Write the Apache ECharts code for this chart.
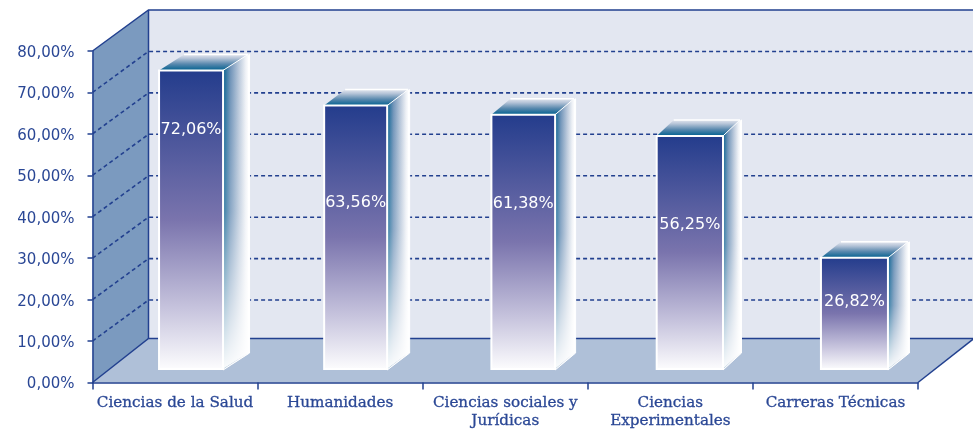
<!DOCTYPE html>
<html><head><meta charset="utf-8">
<style>html,body{margin:0;padding:0;background:#fff}#c{width:973px;height:431px}</style>
<script src="https://cdn.jsdelivr.net/npm/echarts@6/dist/echarts.min.js"></script>
</head><body><div id="c"></div>
<script>
const categories = ['Ciencias de la Salud','Humanidades','Ciencias sociales y\nJurídicas','Ciencias\nExperimentales','Carreras Técnicas'];
const values = [72.06,63.56,61.38,56.25,26.82];
const gridValues = [10,20,30,40,50,60,70];

const NAVY = '#22408f';
const TEXT = '#2a4795';
const fmt = v => v.toFixed(2).replace('.', ',') + '%';
const LG = (x,y,x2,y2,stops) => new echarts.graphic.LinearGradient(x,y,x2,y2,stops.map(s=>({offset:s[0],color:s[1]})));
const DX = 56, DY = -41, FLOOR_DY = -44;
const BAR_LIFT = 13.5, DEPTH_Y = -16;
const barShift = [16,15.5,18,19.5,19];
const barWidth = [64,63,63.7,66.3,67];
const barDepth = [25,21,19,17,20];
const labelRise = [0.80,0.63,0.65,0.62,0.60];

function renderWalls(params, api){
  const cs = params.coordSys;
  const x0 = cs.x, x1 = cs.x + cs.width, y1 = cs.y, y0 = cs.y + cs.height;
  const els = [];
  els.push({type:'polygon',shape:{points:[[x0+DX,y0+FLOOR_DY],[x1+DX,y0+FLOOR_DY],[x1+DX,y1+DY],[x0+DX,y1+DY]]},style:{fill:'#e3e7f1'}});
  els.push({type:'polygon',shape:{points:[[x0,y0],[x0,y1],[x0+DX,y1+DY],[x0+DX,y0+FLOOR_DY]]},style:{fill:'#7b9abf'}});
  els.push({type:'polygon',shape:{points:[[x0,y0],[x1,y0],[x1+DX,y0+FLOOR_DY],[x0+DX,y0+FLOOR_DY]]},style:{fill:'#afc0d8'}});
  gridValues.forEach(v=>{
    const y = api.coord([0,v])[1];
    els.push({type:'polyline',shape:{points:[[x0,y],[x0+DX,y+DY],[x1+DX,y+DY]]},style:{fill:null,stroke:NAVY,lineWidth:1.6,lineDash:[4,3]}});
  });
  els.push({type:'polyline',shape:{points:[[x0,y1],[x0+DX,y1+DY],[x1+DX,y1+DY]]},style:{fill:null,stroke:NAVY,lineWidth:1.5}});
  els.push({type:'line',shape:{x1:x0+DX,y1:y1+DY,x2:x0+DX,y2:y0+FLOOR_DY},style:{stroke:NAVY,lineWidth:1.5}});
  els.push({type:'polyline',shape:{points:[[x0,y0],[x0+DX,y0+FLOOR_DY],[x1+DX,y0+FLOOR_DY]]},style:{fill:null,stroke:NAVY,lineWidth:1.5}});
  els.push({type:'line',shape:{x1:x1,y1:y0,x2:x1+DX,y2:y0+FLOOR_DY},style:{stroke:NAVY,lineWidth:1.5}});
  return {type:'group',children:els};
}

function renderBar(params, api){
  const i = api.value(0), v = api.value(1);
  const c = api.coord([i,v]), b = api.coord([i,0]);
  const w = barWidth[i], dx = barDepth[i];
  const L = c[0]+barShift[i]-w/2, R = L+w, T = c[1]-BAR_LIFT, B = b[1]-BAR_LIFT;
  const side = [[R,T],[R+dx,T+DEPTH_Y],[R+dx,B+DEPTH_Y],[R,B]];
  const halo = [[R,T],[R+dx+1.5,T+DEPTH_Y],[R+dx+1.5,B+DEPTH_Y],[R,B+1]];
  const top = [[L,T],[R,T],[R+dx,T+DEPTH_Y],[L+dx,T+DEPTH_Y]];
  return {type:'group',children:[
    {type:'polygon',shape:{points:halo},style:{fill:'#fff',stroke:'#fff',lineWidth:1}},
    {type:'polygon',shape:{points:side},style:{fill:LG(0,0,1,0,[[0,'#045f90'],[0.3,'#6f93b8'],[0.65,'#bccadc'],[0.9,'#eef1f6'],[1,'#fbfcfd']])}},
    {type:'polygon',shape:{points:side},style:{fill:LG(0,0,0,1,[[0,'rgba(255,255,255,0)'],[0.5,'rgba(255,255,255,0.2)'],[0.85,'rgba(255,255,255,0.75)'],[1,'rgba(255,255,255,0.98)']])}},
    {type:'polygon',shape:{points:top},style:{fill:LG(0,1,0,0,[[0,'#00608f'],[0.4,'#5a89ae'],[0.75,'#b4c3d7'],[1,'#e4e7ef']])}},
    {type:'line',shape:{x1:L+dx,y1:T+DEPTH_Y,x2:R+dx,y2:T+DEPTH_Y},style:{stroke:'#fff',lineWidth:1.5}},
    {type:'line',shape:{x1:R,y1:T,x2:R+dx,y2:T+DEPTH_Y},style:{stroke:'#fff',lineWidth:1}},
    {type:'rect',shape:{x:L,y:T,width:w,height:B-T},style:{fill:LG(0,0,0,1,[[0,'#233c8c'],[0.5,'#7a74ad'],[0.8,'#c8c5de'],[1,'#fdfdfe']]),stroke:'#fff',lineWidth:2}},
    {type:'text',style:{text:fmt(v),x:(L+R)/2,y:B-(B-T)*labelRise[i],align:'center',verticalAlign:'middle',fill:'#fff',font:'16px "DejaVu Sans"'}}
  ]};
}

const chart = echarts.init(document.getElementById('c'),null,{renderer:'canvas'});
chart.setOption({
  animation:false,
  backgroundColor:'#fff',
  grid:{left:92.5,right:55,top:51,bottom:48.5,containLabel:false},
  xAxis:{type:'category',data:categories,z:5,
    axisLine:{lineStyle:{color:NAVY,width:1.5}},
    axisTick:{show:true,alignWithLabel:false,length:7,lineStyle:{color:NAVY,width:1.5}},
    axisLabel:{color:TEXT,fontFamily:'DejaVu Serif',fontSize:15.2,lineHeight:18,margin:12,interval:0,textBorderColor:TEXT,textBorderWidth:0.3}},
  yAxis:{type:'value',min:0,max:80,interval:10,z:5,
    axisLine:{show:true,lineStyle:{color:NAVY,width:1.5}},
    axisTick:{show:true,length:5,lineStyle:{color:NAVY,width:1.5}},
    splitLine:{show:false},
    axisLabel:{color:TEXT,fontFamily:'DejaVu Sans',fontSize:15,margin:18,verticalAlign:'top',lineHeight:4,formatter:fmt}},
  series:[
    {type:'custom',z:1,coordinateSystem:'cartesian2d',renderItem:renderWalls,data:[[0,0]],silent:true},
    {type:'custom',z:2,coordinateSystem:'cartesian2d',renderItem:renderBar,encode:{x:0,y:1},data:values.map((v,i)=>[i,v])}
  ]
});
</script></body></html>
